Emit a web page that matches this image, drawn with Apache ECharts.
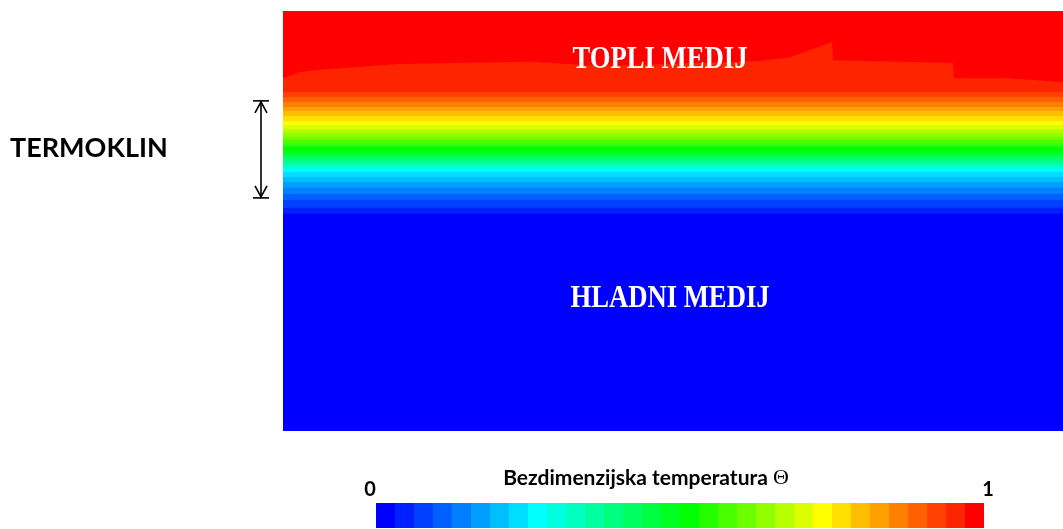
<!DOCTYPE html>
<html>
<head>
<meta charset="utf-8">
<title>Termoklin</title>
<script src="https://cdn.jsdelivr.net/npm/echarts@6/dist/echarts.min.js"></script>
<style>
  html, body { margin: 0; padding: 0; background: #fff; }
  #chart { width: 1063px; height: 529px; }
</style>
</head>
<body>
<div id="chart"></div>
<script>
// 32 razine bezdimenzijske temperature, od 0 (plavo) do 1 (crveno)
const levelColors = [
  '#0000ff', '#0020ff', '#0040ff', '#0060ff', '#0080ff', '#009fff', '#00bfff', '#00dfff',
  '#00ffff', '#00ffdf', '#00ffbf', '#00ff9f', '#00ff80', '#00ff60', '#00ff40', '#00ff20',
  '#00ff00', '#24ff00', '#49ff00', '#6dff00', '#92ff00', '#b6ff00', '#dbff00', '#ffff00',
  '#ffdf00', '#ffbf00', '#ff9f00', '#ff8000', '#ff6000', '#ff4000', '#ff2400', '#ff0000'
];

// gornji rub pojasa (udio visine spremnika, 0 = vrh), razine 30 ... 0
const bandTop = [0, 0.193, 0.205, 0.217, 0.229, 0.238, 0.250, 0.262, 0.271, 0.281, 0.290,
  0.300, 0.307, 0.317, 0.324, 0.333, 0.340, 0.348, 0.352, 0.360, 0.367, 0.371, 0.376,
  0.383, 0.395, 0.407, 0.421, 0.436, 0.450, 0.467, 0.483];
const bandTheta = [0.953, 0.922, 0.891, 0.859, 0.828, 0.797, 0.766, 0.734, 0.703, 0.672,
  0.641, 0.609, 0.578, 0.547, 0.516, 0.484, 0.453, 0.422, 0.391, 0.359, 0.328, 0.297,
  0.266, 0.234, 0.203, 0.172, 0.141, 0.109, 0.078, 0.047, 0.016];

// donji rub najtoplijeg sloja (theta > 0.97) po sirini spremnika
const capX = [0, 0.022, 0.047, 0.150, 0.317, 0.406, 0.535, 0.612, 0.650, 0.704, 0.705,
  0.859, 0.860, 0.928, 0.962, 1];
const capDepth = [0.160, 0.145, 0.140, 0.126, 0.121, 0.131, 0.124, 0.119, 0.110, 0.074,
  0.117, 0.124, 0.160, 0.160, 0.164, 0.169];

// raspon termoklina (dubina)
const thermocline = [0.214, 0.445];

const bands = bandTop.map((t, i) => [0, 1, t, i + 1 < bandTop.length ? bandTop[i + 1] : 1, bandTheta[i]]);
const cap = capX.map((x, i) => [x, capDepth[i]]);

const chart = echarts.init(document.getElementById('chart'));

const option = {
  animation: false,
  grid: { left: 283, top: 11, width: 780, height: 420 },
  xAxis: {
    type: 'value', min: 0, max: 1, position: 'top',
    axisLine: { show: true, lineStyle: { color: '#7b3a30', width: 1 } },
    axisTick: { show: false }, axisLabel: { show: false }, splitLine: { show: false }
  },
  yAxis: {
    type: 'value', min: 0, max: 1, inverse: true,
    axisLine: { show: false }, axisTick: { show: false }, axisLabel: { show: false }, splitLine: { show: false }
  },
  visualMap: {
    type: 'piecewise',
    seriesIndex: 0,
    dimension: 4,
    pieces: levelColors.map((c, i) => ({ gte: i / 32, lt: i === 31 ? 1.01 : (i + 1) / 32, color: c })),
    orient: 'horizontal',
    left: 376, top: 503,
    itemWidth: 19, itemHeight: 25, itemGap: 0,
    itemSymbol: 'rect',
    showLabel: false,
    selectedMode: false,
    hoverLink: false,
    padding: 0
  },
  series: [
    {
      type: 'custom',
      clip: true,
      data: bands,
      renderItem: (params, api) => {
        const p0 = api.coord([api.value(0), api.value(2)]);
        const p1 = api.coord([api.value(1), api.value(3)]);
        return {
          type: 'rect',
          shape: { x: p0[0], y: p0[1], width: p1[0] - p0[0], height: p1[1] - p0[1] + 0.5 },
          style: { fill: api.visual('color') }
        };
      }
    },
    {
      type: 'line',
      data: cap,
      showSymbol: false,
      silent: true,
      lineStyle: { width: 0 },
      areaStyle: { color: levelColors[31], opacity: 1, origin: 'start' }
    }
  ]
};

chart.setOption(option);

const pTop = chart.convertToPixel({ gridIndex: 0 }, [0, thermocline[0]]);
const pBot = chart.convertToPixel({ gridIndex: 0 }, [0, thermocline[1]]);
const ax = pTop[0] - 22;
const y0 = pTop[1];
const y1 = pBot[1];
const arrowStyle = { stroke: '#000', lineWidth: 1.6, fill: null };

chart.setOption({
  graphic: [
    { type: 'line', shape: { x1: ax, y1: y0, x2: ax, y2: y1 }, style: arrowStyle },
    { type: 'line', shape: { x1: ax - 8, y1: y0, x2: ax + 8, y2: y0 }, style: arrowStyle },
    { type: 'line', shape: { x1: ax - 8, y1: y1, x2: ax + 8, y2: y1 }, style: arrowStyle },
    { type: 'polyline', shape: { points: [[ax - 6, y0 + 12], [ax, y0 + 1], [ax + 6, y0 + 12]] }, style: arrowStyle },
    { type: 'polyline', shape: { points: [[ax - 6, y1 - 12], [ax, y1 - 1], [ax + 6, y1 - 12]] }, style: arrowStyle },
    {
      type: 'text', x: 10, y: 148,
      style: { text: 'TERMOKLIN', font: 'bold 27px Lato', fill: '#000', textAlign: 'left', textVerticalAlign: 'middle' }
    },
    {
      type: 'text', x: 660, y: 60, scaleX: 0.86, z: 100,
      style: { text: 'TOPLI MEDIJ', font: 'bold 31px "Liberation Serif"', fill: '#fff', textAlign: 'center', textVerticalAlign: 'middle' }
    },
    {
      type: 'text', x: 670, y: 299, scaleX: 0.86, z: 100,
      style: { text: 'HLADNI MEDIJ', font: 'bold 31px "Liberation Serif"', fill: '#fff', textAlign: 'center', textVerticalAlign: 'middle' }
    },
    {
      type: 'text', x: 646, y: 478,
      style: {
        text: '{a|Bezdimenzijska temperatura }{b|Θ}',
        rich: {
          a: { fontFamily: 'Lato', fontWeight: 'bold', fontSize: 21, fill: '#000' },
          b: { fontFamily: 'Liberation Serif', fontSize: 22, fill: '#000' }
        },
        textAlign: 'center', textVerticalAlign: 'middle'
      }
    },
    {
      type: 'text', x: 370, y: 490,
      style: { text: '0', font: 'bold 20px Lato', fill: '#000', textAlign: 'center', textVerticalAlign: 'middle' }
    },
    {
      type: 'text', x: 988, y: 490,
      style: { text: '1', font: 'bold 20px Lato', fill: '#000', textAlign: 'center', textVerticalAlign: 'middle' }
    }
  ]
});
</script>
</body>
</html>
